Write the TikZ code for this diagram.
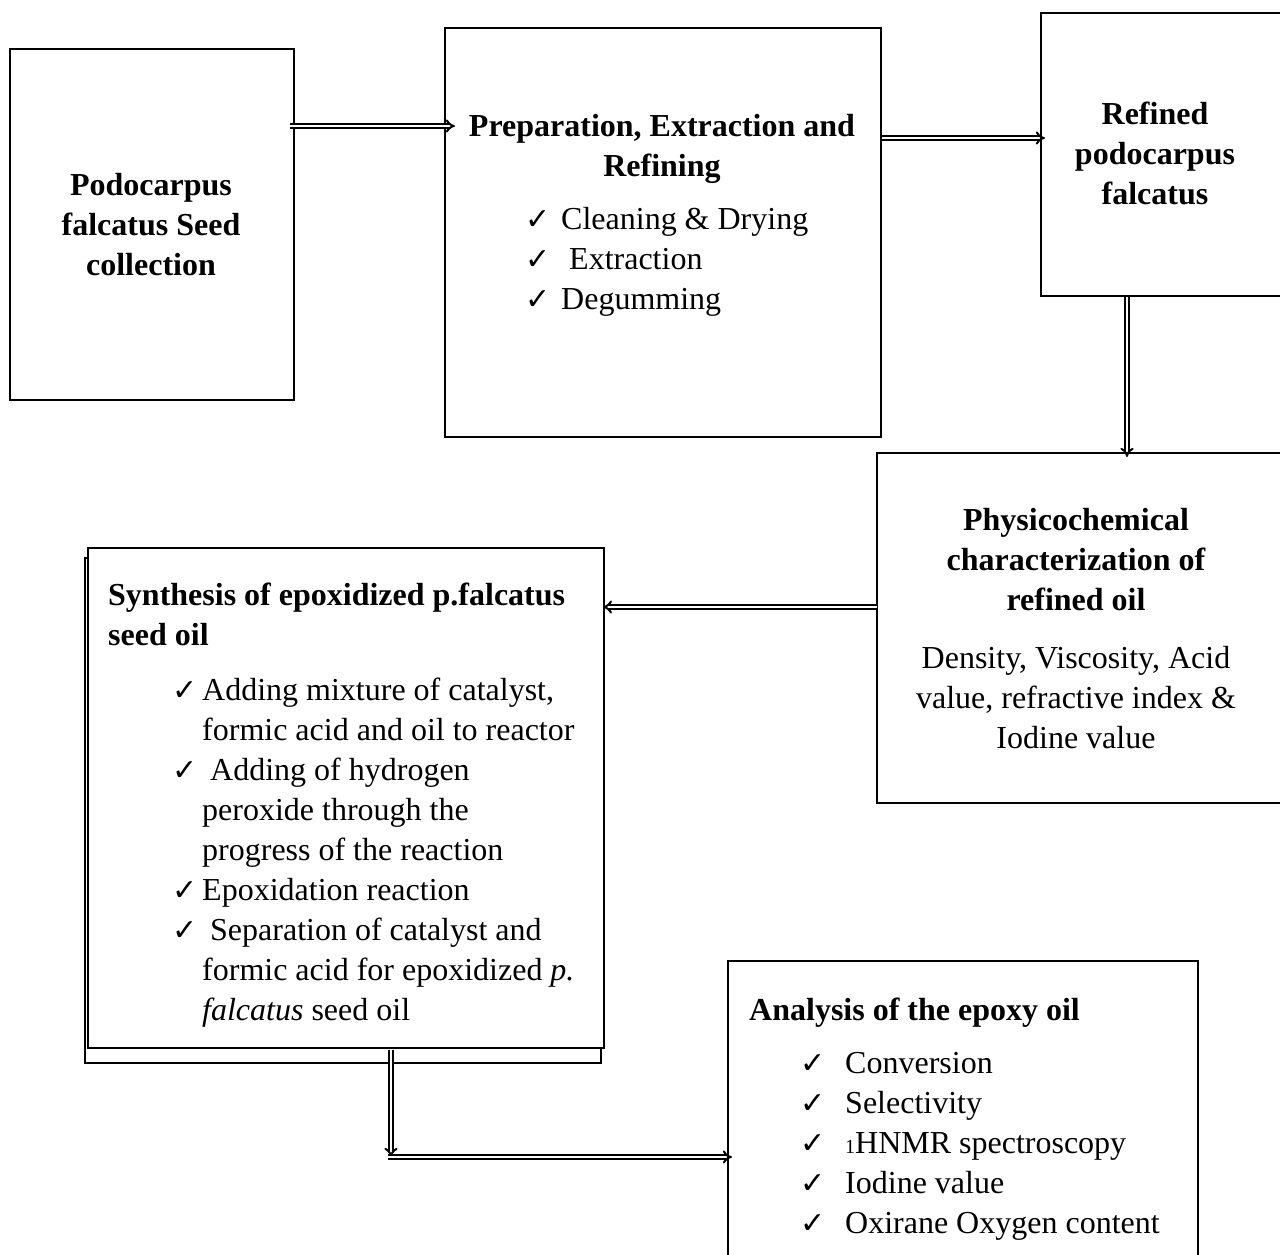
\documentclass[tikz,border=0pt]{standalone}
\usepackage{fontspec}
\setmainfont{Liberation Serif}
\newfontfamily\symf{DejaVu Sans}
\usetikzlibrary{arrows.meta,calc}
\newcommand{\ck}{{\symf\fontsize{30}{30}\selectfont ✓}}
\newcommand{\ckb}[1]{\makebox[#1][l]{\ck}}
\tikzset{
  box/.style={draw, line width=1.8pt, fill=white, anchor=north west, inner sep=0pt},
  txt/.style={font=\fontsize{32}{40}\selectfont, inner sep=0pt},
  btxt/.style={font=\fontsize{32}{40}\selectfont\bfseries, inner sep=0pt},
  dbl/.style={line width=2pt, double, double distance=2.2pt, -{Implies[scale=1.7]}},
}
\begin{document}
\begin{tikzpicture}[x=1pt,y=-1pt]
\useasboundingbox (0,0) rectangle (1280,1255);
\clip (0,0) rectangle (1280,1255);
% boxes
\node[box, minimum width=284pt, minimum height=351pt] (b1) at (9,48) {};
\node[box, minimum width=436pt, minimum height=409pt] (b2) at (444,27) {};
\node[box, minimum width=250pt, minimum height=283pt] (b3) at (1040,12) {};
\node[box, minimum width=414pt, minimum height=350pt] (b4) at (876,452) {};
\node[box, minimum width=516pt, minimum height=505pt] (b5back) at (84,557) {};
\node[box, minimum width=516pt, minimum height=500pt] (b5) at (87,547) {};
\node[box, minimum width=470pt, minimum height=330pt] (b6) at (727,960) {};
% texts
\node[btxt, align=center, anchor=north] (t1) at (151,167)
  {\strut Podocarpus\\falcatus Seed\\collection};
\node[btxt, align=center, anchor=north] (t2h) at (662,108)
  {\strut Preparation, Extraction and\\Refining};
\node[txt, align=left, anchor=north west] (t2l) at (525,201)
  {\strut\ckb{36pt}Cleaning \& Drying\\
   \ckb{36pt}\ Extraction\\
   \ckb{36pt}Degumming};
\node[btxt, align=center, anchor=north] (t3) at (1155,96)
  {\strut Refined\\podocarpus\\falcatus};
\node[btxt, align=center, anchor=north] (t4h) at (1076,502)
  {\strut Physicochemical\\characterization of\\refined oil};
\node[txt, align=center, anchor=north] (t4b) at (1076,640)
  {\strut Density, Viscosity, Acid\\value, refractive index \&\\Iodine value};
\node[btxt, align=left, anchor=north west] (t5h) at (108,577)
  {\strut Synthesis of epoxidized p.falcatus\\seed oil};
\node[txt, align=left, anchor=north west] (t5l) at (172,672)
  {\strut\ckb{30pt}Adding mixture of catalyst,\\
   \makebox[30pt]{}formic acid and oil to reactor\\
   \ckb{30pt}\ Adding of hydrogen\\
   \makebox[30pt]{}peroxide through the\\
   \makebox[30pt]{}progress of the reaction\\
   \ckb{30pt}Epoxidation reaction\\
   \ckb{30pt}\ Separation of catalyst and\\
   \makebox[30pt]{}formic acid for epoxidized \textit{p.}\\
   \makebox[30pt]{}\textit{falcatus} seed oil};
\node[btxt, align=left, anchor=north west] (t6h) at (749,992)
  {\strut Analysis of the epoxy oil};
\node[txt, align=left, anchor=north west] (t6l) at (800,1045)
  {\strut\ckb{45pt}Conversion\\
   \ckb{45pt}Selectivity\\
   \ckb{45pt}{\fontsize{20}{20}\selectfont 1}HNMR spectroscopy\\
   \ckb{45pt}Iodine value\\
   \ckb{45pt}Oxirane Oxygen content};
% connectors
\coordinate (bend) at (391,1157);
\draw[dbl] ($(b1.north east)+(-5,78)$) -- ($(b2.north west)+(11,99)$);
\draw[dbl] ($(b2.north east)+(0,111)$) -- ($(b3.north west)+(5,126)$);
\draw[dbl] ($(b3.south west)+(87,0)$) -- ($(b4.north west)+(251,5)$);
\draw[dbl] ($(b4.north west)+(1,155)$) -- ($(b5.north east)+(-2,60)$);
\draw[dbl] ($(b5.south west)+(304,1)$) -- (bend);
\draw[dbl] ($(bend)+(-3,0)$) -- ($(b6.north west)+(5,197)$);
\end{tikzpicture}
\end{document}
